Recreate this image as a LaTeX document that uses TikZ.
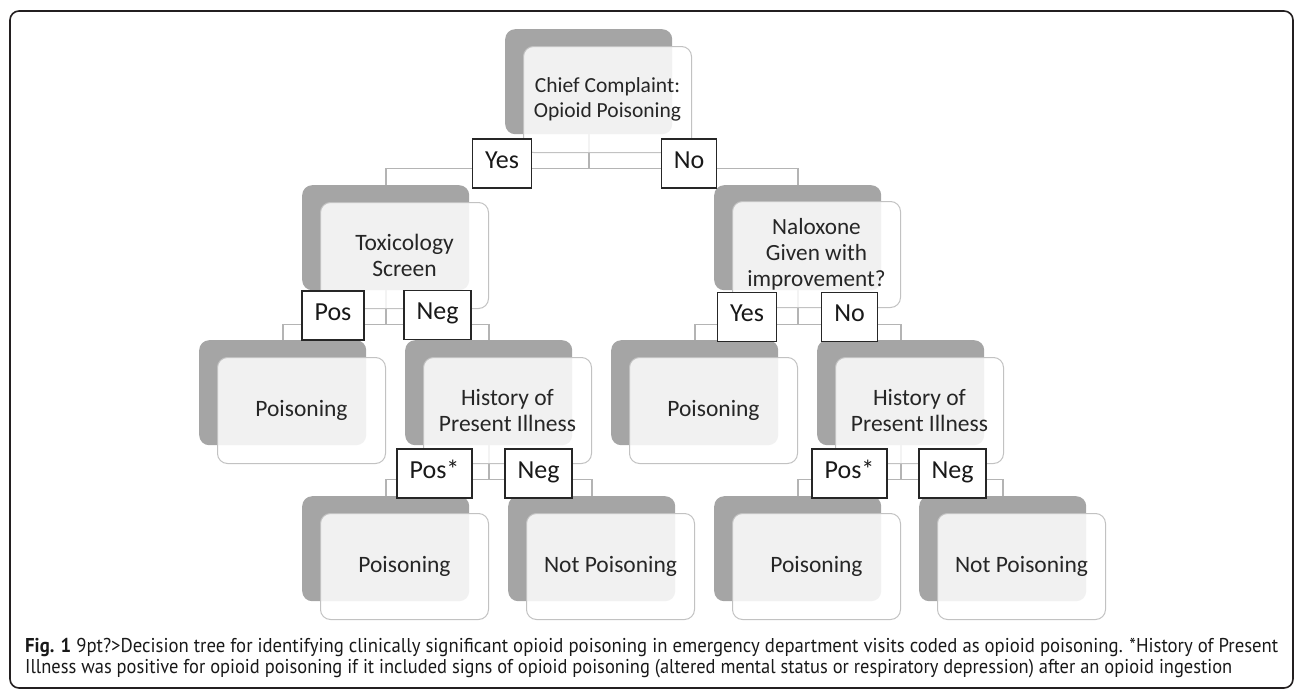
\documentclass[tikz,border=0pt]{standalone}
\usepackage{fontspec}
\usepackage{graphicx}
\setmainfont{Carlito}
\newfontfamily\captfont{PT Sans}
\definecolor{backgray}{HTML}{A5A5A5}
\definecolor{connc}{HTML}{B4B4B4}
\definecolor{frontedge}{HTML}{C2C2C2}
\definecolor{textc}{HTML}{262626}
\definecolor{framec}{HTML}{231F20}
\tikzset{
  backbox/.style={anchor=north west, fill=backgray, rounded corners=10pt,
    minimum width=167pt, minimum height=105pt, inner sep=0pt},
  frontbox/.style={anchor=north west, fill=white, fill opacity=0.85, text opacity=1,
    draw=frontedge, line width=1pt, rounded corners=10pt,
    minimum width=168pt, minimum height=106pt, inner sep=0pt, align=center,
    font=\fontsize{23.5}{25.5}\selectfont, text=textc},
  conn/.style={draw=connc, line width=1.6pt},
  lbl/.style={draw=black!85, line width=1.4pt, fill=white, minimum height=49pt,
    inner xsep=12.5pt, inner ysep=0pt, text height=17pt, text depth=7.4pt,
    font=\fontsize{26}{28}\selectfont, text=black!90},
  captline/.style={anchor=base west, inner sep=0pt, text=black!90},
}
\begin{document}
\begin{tikzpicture}[x=1pt,y=-1pt]
\useasboundingbox (0,0) rectangle (1296,691);
\draw[framec, line width=1.6pt, rounded corners=9pt] (10,11) rectangle (1293,688);

% back (gray) boxes
\node[backbox] (topB) at (505,29) {};
\node[backbox] (toxB) at (302,185) {};
\node[backbox] (nalB) at (714,185) {};
\node[backbox] (plB)  at (199,340) {};
\node[backbox] (hlB)  at (405,340) {};
\node[backbox] (prB)  at (611,340) {};
\node[backbox] (hrB)  at (817,340) {};
\node[backbox] (p3aB) at (302,496) {};
\node[backbox] (n3aB) at (508,496) {};
\node[backbox] (p3bB) at (714,496) {};
\node[backbox] (n3bB) at (919,496) {};

% connectors
\draw[conn] (topB.south) -- ++(0,34) -| (toxB.north);
\draw[conn] (topB.south) -- ++(0,34) -| (nalB.north);
\draw[conn] (toxB.south) -- ++(0,34) -| (plB.north);
\draw[conn] (toxB.south) -- ++(0,34) -| (hlB.north);
\draw[conn] (nalB.south) -- ++(0,34) -| (prB.north);
\draw[conn] (nalB.south) -- ++(0,34) -| (hrB.north);
\draw[conn] (hlB.south) -- ++(0,34) -| (p3aB.north);
\draw[conn] (hlB.south) -- ++(0,34) -| (n3aB.north);
\draw[conn] (hrB.south) -- ++(0,34) -| (p3bB.north);
\draw[conn] (hrB.south) -- ++(0,34) -| (n3bB.north);

% front boxes
\node[frontbox, font=\fontsize{21.5}{25}\selectfont] (top) at ([shift={(18,17)}]topB.north west) {Chief Complaint:\\Opioid Poisoning};
\node[frontbox] (tox) at ([shift={(18,17)}]toxB.north west) {Toxicology\\Screen};
\node[frontbox, font=\fontsize{23.2}{26.3}\selectfont] (nal) at ([shift={(18,16)}]nalB.north west) {Naloxone\\Given with\\improvement?};
\node[frontbox] (pl) at ([shift={(18,17)}]plB.north west) {Poisoning};
\node[frontbox] (hl) at ([shift={(18,17)}]hlB.north west) {History of\\Present Illness};
\node[frontbox] (pr) at ([shift={(18,17)}]prB.north west) {Poisoning};
\node[frontbox] (hr) at ([shift={(18,17)}]hrB.north west) {History of\\Present Illness};
\node[frontbox] (p3a) at ([shift={(18,17)}]p3aB.north west) {Poisoning};
\node[frontbox] (n3a) at ([shift={(18,17)}]n3aB.north west) {Not Poisoning};
\node[frontbox] (p3b) at ([shift={(18,17)}]p3bB.north west) {Poisoning};
\node[frontbox] (n3b) at ([shift={(18,17)}]n3bB.north west) {Not Poisoning};

% labels
\node[lbl] (l1) at (502,163.5) {Yes};
\node[lbl] (l2) at (689,163.5) {No};
\node[lbl] (l3) at (333,315.5) {Pos};
\node[lbl] (l4) at (437.5,315) {Neg};
\node[lbl] (l5) at (747,317) {Yes};
\node[lbl] (l6) at (849.5,317) {No};
\node[lbl] (l7) at (434.5,473.5) {Pos*};
\node[lbl] (l8) at (538.5,473.5) {Neg};
\node[lbl] (l9) at (849.5,473.5) {Pos*};
\node[lbl] (l10) at (952.5,473.5) {Neg};

% caption
\node[captline] (cap1) at (25,652) {\resizebox{1253pt}{\height}{\captfont\fontsize{20}{24}\selectfont\textbf{Fig. 1} 9pt?>Decision tree for identifying clinically significant opioid poisoning in emergency department visits coded as opioid poisoning. *History of Present}};
\node[captline] (cap2) at (25,673) {\resizebox{1207pt}{\height}{\captfont\fontsize{20}{24}\selectfont Illness was positive for opioid poisoning if it included signs of opioid poisoning (altered mental status or respiratory depression) after an opioid ingestion}};
\end{tikzpicture}
\end{document}
